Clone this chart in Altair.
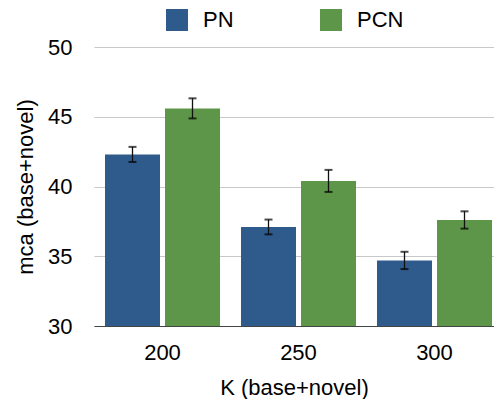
import altair as alt
import pandas as pd

ks = ["200", "250", "300"]
models = ["PN", "PCN"]
pn_vals = [42.3, 37.1, 34.7]
pn_errs = [0.54, 0.53, 0.62]
pcn_vals = [45.6, 40.4, 37.6]
pcn_errs = [0.72, 0.79, 0.62]
colors = ["#2e5a8c", "#5d9649"]

rows = []
for k, v, e in zip(ks, pn_vals, pn_errs):
    rows.append({"K": k, "model": "PN", "value": v, "lo": v - e, "hi": v + e})
for k, v, e in zip(ks, pcn_vals, pcn_errs):
    rows.append({"K": k, "model": "PCN", "value": v, "lo": v - e, "hi": v + e})
df = pd.DataFrame(rows)

FONT = "Liberation Sans"

x = alt.X("K:N", sort=ks, title="K (base+novel)",
          scale=alt.Scale(paddingInner=0.1544, paddingOuter=0.0478, align=0.846),
          axis=alt.Axis(labelAngle=0, ticks=False, domainColor="#444444",
                        labelPadding=16, titlePadding=14, grid=False))
xo = alt.XOffset("model:N", sort=models,
                 scale=alt.Scale(paddingInner=0.0833, paddingOuter=0))
y = alt.Y("value:Q", title="mca (base+novel)",
          scale=alt.Scale(domain=[30, 50], zero=False, nice=False),
          axis=alt.Axis(values=[30, 35, 40, 45, 50], ticks=False, domain=False,
                        gridColor="#c8c8c8", labelPadding=22, titlePadding=10))

base = alt.Chart(df)
bars = base.mark_bar().encode(
    x=x, xOffset=xo, y=y, y2=alt.Y2(datum=30),
    color=alt.Color("model:N", sort=models,
                    scale=alt.Scale(domain=models, range=colors),
                    legend=alt.Legend(title=None, orient="none", legendX=72, legendY=-38,
                                      direction="horizontal", symbolType="square",
                                      symbolSize=484, symbolStrokeWidth=0,
                                      labelFontSize=22, labelOffset=15,
                                      columnPadding=86, labelFont=FONT)),
)
rule = base.mark_rule(color="#111111", strokeWidth=1.3).encode(
    x=x, xOffset=xo, y=alt.Y("lo:Q"), y2="hi:Q")
cap_lo = base.mark_tick(color="#000000", thickness=2, size=8).encode(
    x=x, xOffset=xo, y=alt.Y("lo:Q"))
cap_hi = base.mark_tick(color="#000000", thickness=2, size=8).encode(
    x=x, xOffset=xo, y=alt.Y("hi:Q"))

chart = alt.layer(bars, rule, cap_lo, cap_hi).properties(
    width=400, height=279,
    autosize=alt.AutoSizeParams(type="none"),
    padding={"left": 86, "top": 39, "right": 0, "bottom": 73},
).configure_view(stroke=None).configure_axis(
    labelFont=FONT, titleFont=FONT, labelFontSize=22, titleFontSize=22,
    titleFontWeight="normal", labelColor="#000000", titleColor="#000000",
)

chart.save("out.html", embed_options={"renderer": "svg", "actions": False})
